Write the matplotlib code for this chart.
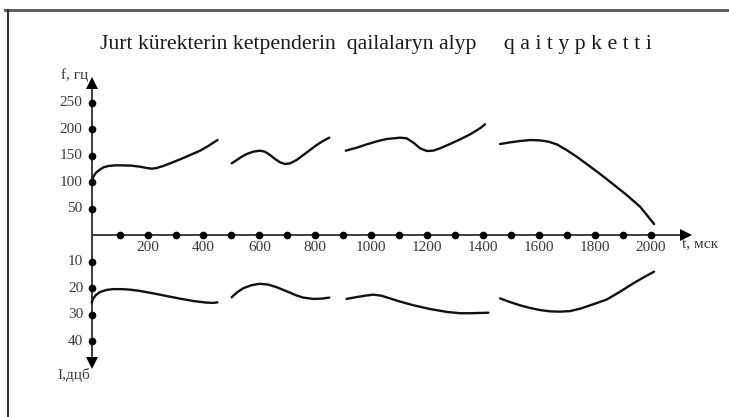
import matplotlib
matplotlib.use("Agg")
import matplotlib.pyplot as plt
from matplotlib.lines import Line2D

plt.rcParams['font.family'] = ['Liberation Serif', 'DejaVu Serif']

title = "Jurt kürekterin ketpenderin  qailalaryn alyp     q a i t y p k e t t i"

# time axis ticks (ms) and labels
x_dots = list(range(100, 2001, 100))
x_labels = [200, 400, 600, 800, 1000, 1200, 1400, 1600, 1800, 2000]
# frequency axis (Hz)
f_ticks = [50, 100, 150, 200, 250]
# intensity axis (dB), drawn downward
i_ticks = [10, 20, 30, 40]

# Frequency contour segments (t ms, f Hz)
f_seg1_t = [0, 5.8, 15.4, 27.3, 41.6, 59.5, 83.4, 113, 143, 173, 197, 215, 232, 256, 286, 316, 352, 388, 417, 450]
f_seg1_v = [99.3, 110.6, 118.2, 123.2, 128.2, 130.8, 132, 132, 131.4, 129.5, 127, 125.7, 127, 130.8, 137, 143.3, 151.5, 159.7, 168.5, 179.8]
f_seg2_t = [501, 519, 537, 555, 578, 602, 620, 638, 656, 674, 692, 710, 733, 757, 781, 805, 829, 850]
f_seg2_v = [135.8, 142.1, 148.4, 153.4, 157.8, 159.7, 157.8, 151.5, 144, 137.7, 134.5, 135.8, 142.1, 151.5, 160.9, 170.4, 178.5, 184.2]
f_seg3_t = [909, 948, 984, 1020, 1055, 1103, 1127, 1151, 1175, 1199, 1222, 1246, 1282, 1318, 1354, 1389, 1407]
f_seg3_v = [159.7, 165.3, 171.6, 177.3, 181.7, 184.2, 183, 174.8, 164.1, 159.1, 159.7, 164.1, 172.3, 181.1, 190.5, 201.8, 209.4]
f_seg4_t = [1461, 1497, 1532, 1568, 1604, 1634, 1664, 1699, 1735, 1771, 1819, 1866, 1914, 1962, 2012]
f_seg4_v = [172.3, 175.4, 177.9, 179.8, 179.2, 176.7, 171.6, 160.9, 148.4, 134.5, 115.7, 96.2, 76, 54, 21.3]

# Intensity contour segments (t ms, I dB)
i_seg1_t = [0, 5.8, 15.4, 29.6, 53.5, 77.3, 107, 137, 173, 220, 268, 316, 364, 411, 435, 450]
i_seg1_v = [25.4, 23.8, 22.5, 21.4, 20.6, 20.3, 20.3, 20.5, 21.0, 21.9, 22.9, 23.9, 24.8, 25.4, 25.5, 25.3]
i_seg2_t = [501, 519, 542, 572, 602, 632, 662, 697, 733, 757, 793, 823, 850]
i_seg2_v = [23.4, 21.6, 20.0, 18.8, 18.3, 18.6, 19.6, 21.1, 22.7, 23.5, 24.0, 23.9, 23.5]
i_seg3_t = [912, 948, 984, 1008, 1037, 1067, 1103, 1151, 1210, 1270, 1318, 1354, 1389, 1419]
i_seg3_v = [24.0, 23.3, 22.7, 22.4, 22.8, 23.8, 25.0, 26.4, 27.8, 28.9, 29.4, 29.4, 29.3, 29.2]
i_seg4_t = [1461, 1497, 1532, 1568, 1604, 1640, 1676, 1711, 1747, 1795, 1843, 1890, 1938, 1974, 2012]
i_seg4_v = [23.8, 25.2, 26.4, 27.4, 28.2, 28.7, 28.8, 28.6, 27.7, 26.0, 24.2, 21.3, 18.1, 15.9, 13.7]

DB_SCALE = 5.0  # 1 dB drawn as 5 Hz-units below the time axis

fig = plt.figure(figsize=(7.29, 4.17), dpi=100)
ax = fig.add_axes([0, 0, 1, 1])
ax.set_xlim(-328, 2280)
ax.set_ylim(-342.8, 444)
ax.axis('off')

axis_col = '#3c3c3c'
txt_col = '#3a3a3a'

# frame lines (top and left)
fig.add_artist(Line2D([5/729, 1], [1 - 10/417, 1 - 10/417], transform=fig.transFigure,
                      color='#555555', lw=2))
fig.add_artist(Line2D([8/729, 8/729], [0, 1 - 10/417], transform=fig.transFigure,
                      color='#333333', lw=1.5))

# axes lines with arrows
ax.plot([0, 2125], [0, 0], color=axis_col, lw=1.4)
ax.plot([2125], [0], marker='>', color='black', ms=8, markeredgewidth=0)
ax.plot([0, 0], [-241, 287], color=axis_col, lw=1.4)
ax.plot([0], [287], marker='^', color='black', ms=8, markeredgewidth=0)
ax.plot([0], [-241], marker='v', color='black', ms=8, markeredgewidth=0)

# dots
ax.plot(x_dots, [0] * len(x_dots), 'o', color='black', ms=4.5)
ax.plot([0] * len(f_ticks), f_ticks, 'o', color='black', ms=4.5)
ax.plot([0] * len(i_ticks), [-v * DB_SCALE for v in i_ticks], 'o', color='black', ms=4.5)

fs = 11
for x in x_labels:
    ax.text(x, -22.5, str(x), ha='center', va='center', fontsize=fs, color=txt_col)
for v in f_ticks:
    ax.text(-32, v, str(v), ha='right', va='center', fontsize=fs, color=txt_col)
for v in i_ticks:
    ax.text(-30, -v * DB_SCALE, str(v), ha='right', va='center', fontsize=fs, color=txt_col)

ax.text(-12, 302, "f, гц", ha='right', va='center', fontsize=fs, color=txt_col)
ax.text(2112, -18, "t, мск", ha='left', va='center', fontsize=fs, color=txt_col)
ax.text(-65, -263, "I,дцб", ha='center', va='center', fontsize=fs, color=txt_col)

# title
fig.text(100/729, 1 - 45/417, title, ha='left', va='center', fontsize=15.7, color='#1a1a1a')

lc = '#111111'
lw = 1.7
for t, v in [(f_seg1_t, f_seg1_v), (f_seg2_t, f_seg2_v), (f_seg3_t, f_seg3_v), (f_seg4_t, f_seg4_v)]:
    ax.plot(t, v, color=lc, lw=lw, solid_capstyle='round', solid_joinstyle='round')
for t, v in [(i_seg1_t, i_seg1_v), (i_seg2_t, i_seg2_v), (i_seg3_t, i_seg3_v), (i_seg4_t, i_seg4_v)]:
    ax.plot(t, [-x * DB_SCALE for x in v], color=lc, lw=lw, solid_capstyle='round', solid_joinstyle='round')

fig.savefig("out.png", dpi=100)
